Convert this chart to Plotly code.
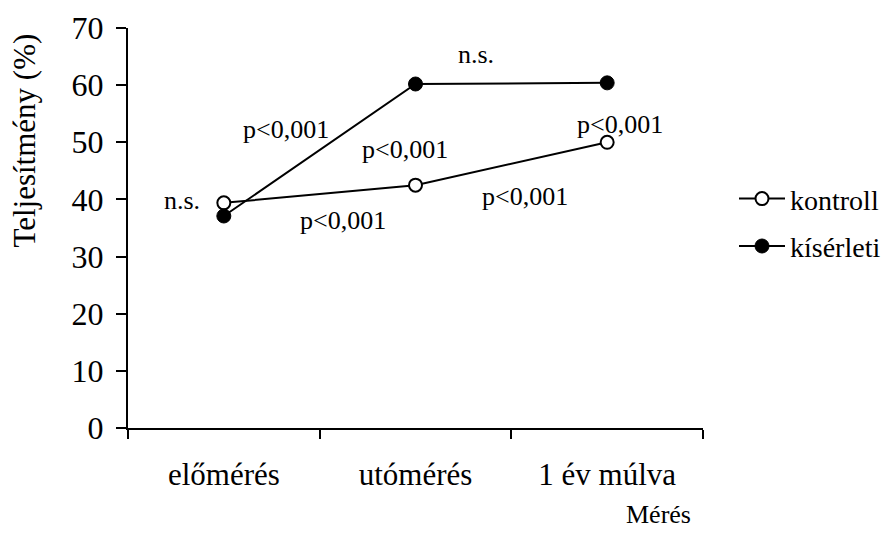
import plotly.graph_objects as go

categories = ["előmérés", "utómérés", "1 év múlva"]
kontroll = [39.4, 42.5, 50.0]
kiserleti = [37.1, 60.2, 60.4]
series_names = ["kontroll", "kísérleti"]
y_ticks = [0, 10, 20, 30, 40, 50, 60, 70]

ann_texts = ["n.s.", "p<0,001", "n.s.", "p<0,001", "p<0,001", "p<0,001", "p<0,001"]
ann_x = [-0.218, 0.324, 1.316, 0.945, 2.067, 1.571, 0.622]
ann_y = [39.9, 52.2, 65.3, 48.7, 53.1, 40.5, 36.3]

FONT = "Liberation Serif"

# page body has an 8px default margin; compensate so the plot area lands at 128..703 x 28..428
W, H = 886, 527
ML, MR, MT, MB = 120, 191, 20, 107
pw, ph = W - ML - MR, H - MT - MB

fig = go.Figure()
fig.add_trace(go.Scatter(
    x=categories, y=kontroll, name=series_names[0], mode="lines+markers",
    line=dict(color="black", width=2),
    marker=dict(symbol="circle", size=13, color="white", line=dict(color="black", width=2)),
    legendgroup="a",
))
fig.add_trace(go.Scatter(
    x=categories, y=kiserleti, name=series_names[1], mode="lines+markers",
    line=dict(color="black", width=2),
    marker=dict(symbol="circle", size=14, color="black", line=dict(color="black", width=1)),
    legendgroup="b",
))

for t, x, y in zip(ann_texts, ann_x, ann_y):
    fig.add_annotation(x=x, y=y, xref="x", yref="y", text=t, showarrow=False,
                       font=dict(family=FONT, size=26, color="black"))

fig.add_annotation(x=(693 - 128) / pw, y=(428.4 - 515) / ph, xref="paper", yref="paper",
                   text="Mérés", showarrow=False, xanchor="right", yanchor="middle",
                   font=dict(family=FONT, size=26, color="black"))

fig.add_annotation(x=(25 - 128) / pw, y=(428.4 - 141) / ph, xref="paper", yref="paper",
                   text="Teljesítmény (%)", showarrow=False, textangle=-90,
                   xanchor="center", yanchor="middle",
                   font=dict(family=FONT, size=31, color="black"))

fig.update_layout(
    width=W, height=H,
    margin=dict(l=ML, r=MR, t=MT, b=MB, autoexpand=False),
    paper_bgcolor="white", plot_bgcolor="white",
    font=dict(family=FONT, color="black", size=26),
    showlegend=True,
    legend=dict(x=(734 - 128) / pw, y=0.514, xanchor="left", yanchor="middle",
                font=dict(family=FONT, size=28, color="black"),
                itemwidth=46, tracegroupgap=8, bgcolor="rgba(0,0,0,0)"),
    xaxis=dict(
        type="category", range=[-0.5, 2.5],
        showline=True, linecolor="black", linewidth=2,
        ticks="outside", tickson="boundaries", ticklen=9, tickwidth=2, tickcolor="black",
        showgrid=False, zeroline=False,
        tickfont=dict(family=FONT, size=31, color="black"),
        ticklabelstandoff=18,
    ),
    yaxis=dict(
        range=[0, 70], tickvals=y_ticks,
        showline=True, linecolor="black", linewidth=2,
        ticks="outside", ticklen=10, tickwidth=2, tickcolor="black",
        showgrid=False, zeroline=False,
        tickfont=dict(family=FONT, size=32, color="black"),
        ticklabelstandoff=6,
    ),
)

fig.write_html("out.html")
